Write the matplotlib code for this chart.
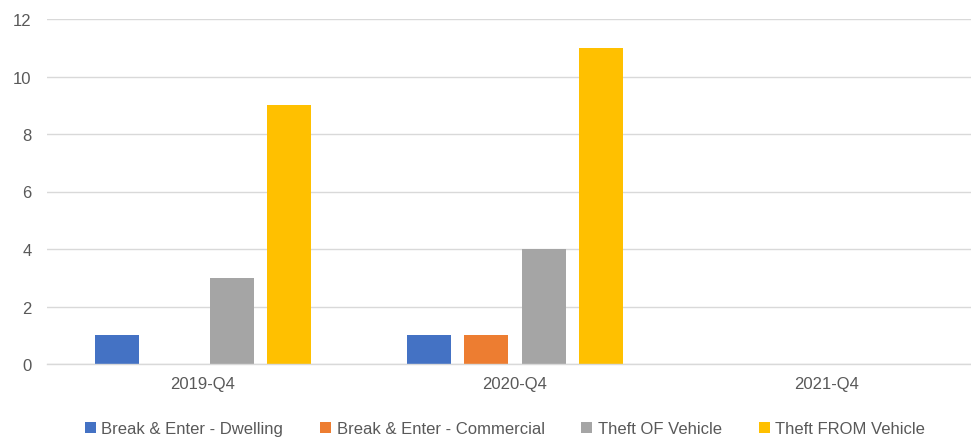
import matplotlib
matplotlib.use("Agg")
import matplotlib.pyplot as plt
from matplotlib.patches import Patch
import numpy as np

categories = ["2019-Q4", "2020-Q4", "2021-Q4"]
series_names = ["Break & Enter - Dwelling", "Break & Enter - Commercial",
                "Theft OF Vehicle", "Theft FROM Vehicle"]
dwelling = [1, 1, 0]
commercial = [0, 1, 0]
theft_of = [3, 4, 0]
theft_from = [9, 11, 0]
yticks = [0, 2, 4, 6, 8, 10, 12]

colors = ["#4472C4", "#ED7D31", "#A5A5A5", "#FFC000"]
values = [dwelling, commercial, theft_of, theft_from]

plt.rcParams['font.family'] = ['Liberation Sans', 'DejaVu Sans']
W, H = 971, 439
fig = plt.figure(figsize=(W / 100, H / 100), dpi=100)
ax = fig.add_axes([47 / W, 74 / H, (971 - 47) / W, (419 - 74) / H])

x = np.arange(len(categories))
step = 0.183
width = 0.141
for i, (vals, c) in enumerate(zip(values, colors)):
    ax.bar(x + (i - 1.5) * step, vals, width=width, color=c, zorder=3)

ax.set_xlim(-0.5, 2.5 - 12 / 312)
ax.set_ylim(0, 12)
ax.set_yticks(yticks)
ax.set_xticks(x)
ax.set_xticklabels(categories)
ax.grid(axis='y', color='#D9D9D9', linewidth=1, zorder=0)
for s in ['top', 'right', 'left']:
    ax.spines[s].set_visible(False)
ax.spines['bottom'].set_color('#D9D9D9')
ax.spines['bottom'].set_linewidth(1)
ax.spines['bottom'].set_zorder(4)
ax.tick_params(axis='both', length=0, labelsize=12, labelcolor='#595959')
ax.tick_params(axis='y', pad=11)
ax.tick_params(axis='x', pad=9)

handles = [Patch(facecolor=c, edgecolor='none') for c in colors]
fig.legend(handles, series_names, loc='center', bbox_to_anchor=(505 / W, 1 - 430 / H),
           ncol=4, frameon=False, fontsize=12, labelcolor='#595959',
           handlelength=0.65, handleheight=0.65, handletextpad=0.35, columnspacing=2.2)

fig.savefig("out.png", dpi=100)
